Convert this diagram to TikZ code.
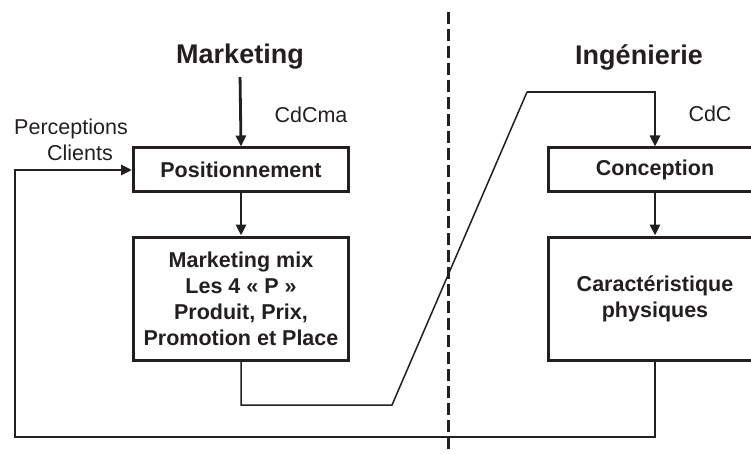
\documentclass[tikz,border=0pt]{standalone}
\usepackage{fontspec}
\setmainfont{Liberation Sans}
\usetikzlibrary{arrows.meta}
\definecolor{ink}{RGB}{35,31,32}

\begin{document}
\begin{tikzpicture}[x=1pt,y=-1pt,
    box/.style={draw=ink,line width=3pt,text=ink,align=center,inner sep=0pt,
      font=\fontsize{21.5}{26}\selectfont\bfseries},
    title/.style={text=ink,font=\fontsize{27}{30}\selectfont\bfseries},
    lbl/.style={text=ink,align=center,font=\fontsize{21.5}{26}\selectfont},
    link/.style={draw=ink,line width=2.8pt},
    thin link/.style={draw=ink,line width=1.5pt},
    tip/.style={-{Triangle[length=11pt,width=10pt]}}]
  \useasboundingbox (0,0) rectangle (751,454);

  % headings
  \node[title] (mkt) at (240,57) {Marketing};
  \node[title] (ing) at (639,57) {Ingénierie};

  % separation
  \draw[ink,line width=3pt,dash pattern=on 12pt off 5pt] (448,12) -- (448,454);

  % boxes
  \node[box,minimum width=215pt,minimum height=44pt] (pos) at (241,170) {Positionnement};
  \node[box,minimum width=215pt,minimum height=123pt] (mix) at (241,298.5)
    {Marketing mix\\Les 4 « P »\\Produit, Prix,\\Promotion et Place};
  \node[box,minimum width=214pt,minimum height=44pt] (conc) at (655,170) {Conception};
  \node[box,minimum width=214pt,minimum height=123pt] (car) at (655,298.5)
    {Caractéristique\\physiques};

  % labels
  \node[lbl] (cdcma) at (311,115) {CdCma};
  \node[lbl] (cdc) at (710,114) {CdC};
  \node[lbl] (perc) at (71,140) {Perceptions\\\hspace*{18pt}Clients};

  % bends
  \coordinate (bl) at (392,405);
  \coordinate (tl) at (527,92);
  \coordinate (fr) at (655,437);
  \coordinate (fl) at (15,437);

  % arrows
  \draw[link,tip,shorten <=4pt] (mkt.south) -- (pos.north);
  \draw[link,tip] (pos.south) -- (mix.north);
  \draw[link,tip] (conc.south) -- (car.north);
  \draw[thin link] (mix.south) |- (bl) -- (tl);
  \draw[link,tip] (tl) -| (conc.north);
  \draw[link,tip] (car.south) -- (fr) -- (fl) |- (pos.west);
\end{tikzpicture}
\end{document}
